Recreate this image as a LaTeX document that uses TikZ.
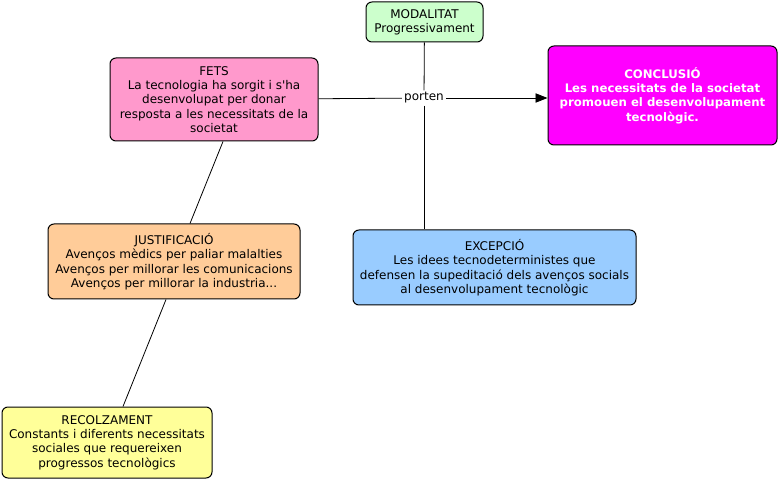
\documentclass[tikz,border=0pt]{standalone}
\usepackage{fontspec}
\setmainfont{DejaVu Sans}
\usetikzlibrary{arrows.meta}
\definecolor{fetsc}{HTML}{FF99CC}
\definecolor{modc}{HTML}{CCFFCC}
\definecolor{concc}{HTML}{FF00FF}
\definecolor{justc}{HTML}{FFCC99}
\definecolor{excc}{HTML}{99CCFF}
\definecolor{recc}{HTML}{FFFF99}
\begin{document}
\begin{tikzpicture}[x=0.75pt,y=-0.75pt,
  concept/.style={draw=black,line width=0.75pt,rounded corners=4.5pt,align=center,
    inner sep=0pt,font=\fontsize{9pt}{10.8pt}\selectfont},
  link/.style={draw=black,line width=0.6pt},
  lbl/.style={fill=white,inner sep=1.5pt,font=\fontsize{9pt}{10.8pt}\selectfont}]
\useasboundingbox (0,0) rectangle (779,481);
\node[concept,fill=modc,minimum width=87.75pt,minimum height=30pt] (mod) at (424.5,22)
  {MODALITAT\\Progressivament};
\node[concept,fill=fetsc,minimum width=156pt,minimum height=62.25pt] (fets) at (214,99.5)
  {FETS\\La tecnologia ha sorgit i s\textquotesingle ha\\desenvolupat per donar\\resposta a les necessitats de la\\societat};
\node[concept,fill=concc,text=white,font=\fontsize{8.8pt}{10.8pt}\selectfont\bfseries,
  minimum width=171.75pt,minimum height=74.25pt] (conc) at (662.5,95.5)
  {CONCLUSIÓ\\Les necessitats de la societat\\promouen el desenvolupament\\tecnològic.};
\node[concept,fill=justc,minimum width=189pt,minimum height=56.25pt] (just) at (174,261.5)
  {JUSTIFICACIÓ\\Avenços mèdics per paliar malalties\\Avenços per millorar les comunicacions\\Avenços per millorar la industria...};
\node[concept,fill=excc,minimum width=212.25pt,minimum height=56.25pt] (exc) at (494.5,267.5)
  {EXCEPCIÓ\\Les idees tecnodeterministes que\\defensen la supeditació dels avenços socials\\al desenvolupament tecnològic};
\node[concept,fill=recc,minimum width=157.5pt,minimum height=53.25pt] (rec) at (107,442.5)
  {RECOLZAMENT\\Constants i diferents necessitats\\sociales que requereixen\\progressos tecnològics};
\node[lbl] (porten) at (424,98) {porten};
\draw[link] (mod) -- (porten);
\draw[link] (porten) -- (porten |- exc.north);
\draw[link] (fets) -- (porten);
\draw[link,-{Triangle[length=9pt,width=7pt]}] (porten) -- (conc.west |- porten);
\draw[link] ([xshift=6.75pt]fets.south) -- ([xshift=12pt]just.north);
\draw[link] ([xshift=-6pt]just.south) -- ([xshift=12pt]rec.north);
\end{tikzpicture}
\end{document}
